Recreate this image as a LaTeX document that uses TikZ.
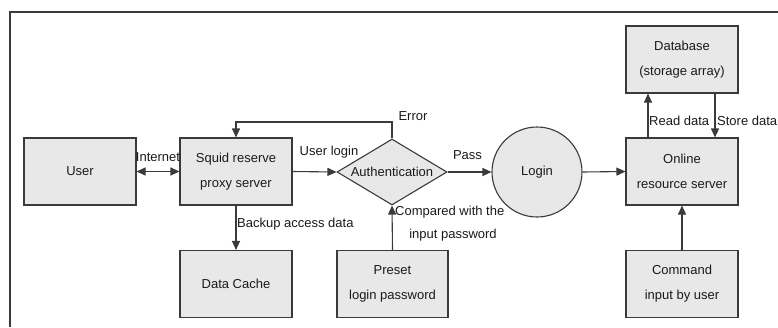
\documentclass[tikz,border=0pt]{standalone}
\usepackage{fontspec}
\setmainfont{Liberation Sans}
\usetikzlibrary{arrows.meta,shapes.geometric}
\definecolor{boxfill}{HTML}{E8E8E8}
\definecolor{edge}{HTML}{3A3A3A}
\definecolor{txt}{HTML}{1A1A1A}
\tikzset{
  box/.style={draw=edge, fill=boxfill, line width=1.1pt, minimum width=112pt, minimum height=67pt, inner sep=0pt, align=center, text=txt},
  decide/.style={draw=edge, fill=boxfill, line width=1.1pt, diamond, minimum width=110pt, minimum height=66pt, inner sep=0pt},
  roundnode/.style={draw=edge, fill=boxfill, line width=1.1pt, circle, minimum size=90pt, inner sep=0pt, text=txt},
  conn/.style={draw=edge, line width=1.1pt, -{Triangle[length=9pt,width=8pt]}},
  lbl/.style={text=txt, inner sep=0pt}
}
\begin{document}
\begin{tikzpicture}[x=1pt,y=-1pt,font=\fontsize{13}{25}\selectfont]
\useasboundingbox (0,0) rectangle (778,327);
\coordinate (fa) at (10,327);
\coordinate (fb) at (10,12);
\coordinate (fc) at (778,12);
\draw[edge, line width=1.1pt] (fa) -- (fb) -- (fc);

\node[box] (user) at (80,171.5) {User};
\node[box] (squid) at (236,171.5) {Squid reserve\\proxy server};
\node[box] (cache) at (236,284) {Data Cache};
\node[decide] (auth) at (392,172) {};
\node[lbl] (authtext) at (392,172) {Authentication};
\node[box, minimum width=111pt] (preset) at (392.5,284) {Preset\\login password};
\node[roundnode] (login) at (537,172) {Login};
\node[box] (online) at (682,171.5) {Online\\resource server};
\node[box] (db) at (682,59.5) {Database\\(storage array)};
\node[box] (cmd) at (682,284) {Command\\input by user};

\draw[conn, {Triangle[length=9pt,width=8pt]}-{Triangle[length=9pt,width=8pt]}] (user.east) -- (squid.west);
\node[lbl] (linternet) at (158,157) {Internet};

\draw[conn] (squid.east) -- (auth.west);
\node[lbl] (luser) at (329,152) {User login};

\coordinate (errup) at (392,122);
\draw[conn] (auth.north) -- (errup) -| (squid.north);
\node[lbl] (lerror) at (413,116) {Error};

\draw[conn] (auth.east) -- (login.west);
\node[lbl] (lpass) at (467.5,155) {Pass};

\draw[conn] (login.east) -- (online.west);

\draw[conn] ([xshift=-34pt]online.north) -- ([xshift=-34pt]db.south);
\node[lbl, anchor=west] (lread) at (649,121) {Read data};
\draw[conn] ([xshift=33pt]db.south) -- ([xshift=33pt]online.north);
\node[lbl, anchor=west] (lstore) at (717,121) {Store data};

\draw[conn] (cmd.north) -- (online.south);

\draw[conn] (preset.north) -- (auth.south);
\node[lbl, anchor=west] (lcomp) at (395,212) {Compared with the};
\node[lbl] (lpw) at (453,235) {input password};

\draw[conn] (squid.south) -- (cache.north);
\node[lbl, anchor=west] (lbackup) at (237,224) {Backup access data};
\end{tikzpicture}
\end{document}
